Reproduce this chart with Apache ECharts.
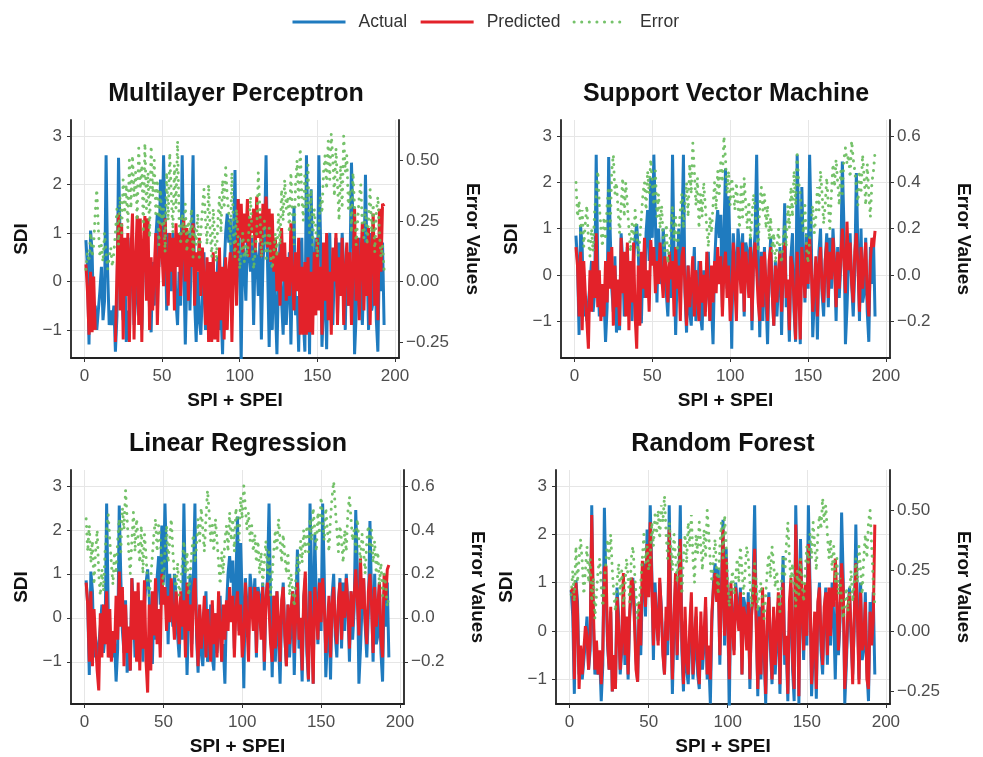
<!DOCTYPE html>
<html>
<head>
<meta charset="utf-8">
<title>SDI model comparison</title>
<script src="https://cdn.jsdelivr.net/npm/echarts@6/dist/echarts.min.js"></script>
<style>
html, body { margin: 0; padding: 0; background: #fff; }
#chart { width: 983px; height: 757px; }
</style>
</head>
<body>
<div id="chart"></div>
<script>
// observed SDI, index 1..193 (same in every panel)
const actual = [
  0.85, 0.3, -1.3, 1.05, 0.6, -0.9, -0.5, -1.0, -0.6, -0.2,
  0.3, -0.8, -0.4, 2.6, 0.2, -0.9, -0.6, -0.9, -0.5, -1.45,
  -0.7, 2.55, 0.9, -0.3, -0.8, 0.4, -1.25, -0.6, -1.2, 0.9,
  0.3, -0.9, -0.4, 0.6, -0.7, 0.2, -1.0, 0.3, 0.8, 1.1,
  0.5, -0.6, -1.05, 0.4, -0.5, 0.9, 1.4, 0.3, 2.1, 0.8,
  2.6, 1.2, -0.6, 1.0, 0.3, -0.2, 1.0, 0.5, -0.4, -0.9,
  0.2, -0.5, 2.6, 0.4, -1.3, 0.1, 1.0, -0.6, 0.8, 2.6,
  -0.4, -1.25, 0.2, -0.8, -1.1, -0.2, 0.6, -1.0, -0.5, 0.3,
  -0.9, -1.2, 0.1, -0.8, -0.3, 0.5, -1.0, -0.6, -1.5, 0.2,
  1.0, 1.4, 0.8, 1.3, -0.7, 0.9, 2.3, -0.3, 1.7, 0.4,
  -1.6, 0.9, 0.3, -0.4, 1.0, 0.6, 0.2, 0.9, -0.9, 0.7,
  0.5, -0.3, 0.8, -1.2, 0.4, 0.9, 2.6, 0.3, -1.35, 0.5,
  -1.0, 0.6, -0.5, -1.5, 0.1, 0.8, -0.4, -1.1, 0.3, -0.9,
  -0.2, 0.6, -1.3, 0.2, 1.55, -0.7, -0.3, -1.45, 0.4, 0.9,
  -0.8, -1.45, 2.6, 1.0, -1.5, 1.9, 0.4, -0.6, 0.9, -0.3,
  2.6, 1.0, -1.35, -0.5, 0.2, -1.4, 0.5, 1.0, -0.4, -0.9,
  0.3, 0.9, -0.7, 0.8, -0.3, 1.0, 0.3, -1.0, 0.6, -0.5,
  0.2, 2.45, 1.1, -1.5, -0.7, 0.3, 0.9, -0.2, -0.9, 0.1,
  2.2, 0.5, -1.0, 1.0, -0.6, -0.4, 0.8, -0.8, -1.45, 0.6,
  -0.2, 0.8, -0.9
];

const mlpPredicted = [
  0.35, -0.2, -1.1, 0.2, -1.05, 0.1, -1.0, null, null, null,
  null, null, null, null, null, null, null, null, null, -1.25,
  0.2, 1.4, -0.6, 1.2, -1.2, 0.9, -0.3, 1.0, -1.25, 0.6,
  1.4, -1.2, 0.4, 1.35, -0.9, 1.3, -1.25, 0.8, 1.35, -0.4,
  1.3, -1.0, 0.5, -0.6, 0.2, 1.0, -0.9, 0.3, 1.2, 0.6,
  -0.1, 1.3, 0.4, -0.5, 1.0, 0.2, 0.9, -0.6, 1.2, 0.3,
  1.0, -0.3, 0.8, 1.3, 0.0, 1.1, -0.4, 0.9, 0.3, 1.2,
  -0.5, 0.6, 0.2, 0.9, -0.3, 0.7, 0.1, -0.9, 0.5, -1.25,
  0.4, -1.25, 0.6, -1.2, 0.2, -1.25, 0.7, -0.8, 0.3, -1.2,
  0.5, -1.0, 0.2, 0.6, -1.25, 0.4, 0.8, -0.5, 1.7, 0.9,
  1.6, 0.6, 1.4, 0.8, 1.7, 0.5, 1.3, 1.0, 1.5, 0.6,
  1.75, 0.9, 1.4, 0.5, 1.6, 1.1, 1.75, 0.7, 1.5, 0.4,
  1.4, 0.2, 0.9, -0.2, 0.6, -0.5, 1.1, 0.0, 0.8, -0.4,
  0.5, -0.3, 1.2, 0.1, -0.6, 0.6, -0.2, 0.9, -1.1, 0.3,
  -1.1, 0.4, -1.1, 0.5, -1.05, 0.2, -1.1, 0.6, -0.7, 0.9,
  -0.6, 0.3, -1.1, 0.8, -0.4, 1.0, -0.8, 0.2, -1.1, 0.7,
  0.0, 1.0, -0.9, 0.5, -0.3, 0.9, -0.9, 0.2, 0.8, -0.5,
  0.6, -0.9, 0.3, 1.5, -0.4, 0.9, -0.8, 0.4, 1.2, -0.6,
  0.8, -0.3, 1.1, -0.9, 0.6, 1.4, -0.5, 0.9, -0.8, 1.5,
  0.2, 1.6, 1.55
];
const mlpError = [
  0.05, 0.12, 0.08, 0.2, 0.1, 0.15, 0.28, 0.38, 0.22, 0.1,
  0.15, 0.08, 0.2, 0.12, 0.05, 0.1, 0.14, 0.06, 0.12, 0.2,
  0.3, 0.15, 0.35, 0.2, 0.42, 0.28, 0.4, 0.22, 0.5, 0.3,
  0.52, 0.35, 0.45, 0.25, 0.55, 0.38, 0.48, 0.2, 0.57, 0.3,
  0.45, 0.18, 0.56, 0.35, 0.5, 0.28, 0.42, 0.15, 0.38, 0.22,
  0.3, 0.12, 0.45, 0.25, 0.53, 0.35, 0.2, 0.48, 0.3, 0.58,
  0.25, 0.15, 0.28, 0.2, 0.32, 0.12, 0.25, 0.18, 0.3, 0.1,
  0.22, 0.15, 0.28, 0.1, 0.2, 0.3, 0.38, 0.25, 0.15, 0.4,
  0.2, 0.1, 0.3, 0.18, 0.08, 0.25, 0.35, 0.2, 0.42, 0.3,
  0.47, 0.35, 0.28, 0.15, 0.45, 0.2, 0.1, 0.3, 0.18, 0.05,
  0.12, 0.2, 0.08, 0.15, 0.1, 0.22, 0.35, 0.18, 0.05, 0.12,
  0.2, 0.45, 0.3, 0.1, 0.18, 0.25, 0.08, 0.15, 0.22, 0.1,
  0.05, 0.12, 0.2, 0.1, 0.28, 0.15, 0.38, 0.25, 0.42, 0.3,
  0.35, 0.2, 0.45, 0.28, 0.15, 0.4, 0.5, 0.3, 0.55, 0.35,
  0.25, 0.45, 0.3, 0.48, 0.2, 0.38, 0.15, 0.3, 0.22, 0.1,
  0.2, 0.35, 0.28, 0.45, 0.52, 0.38, 0.58, 0.42, 0.61, 0.5,
  0.35, 0.55, 0.4, 0.25, 0.48, 0.3, 0.6, 0.45, 0.52, 0.3,
  0.38, 0.2, 0.45, 0.3, 0.15, 0.25, 0.35, 0.4, 0.22, 0.18,
  0.3, 0.15, 0.25, 0.38, 0.2, 0.32, 0.12, 0.28, 0.35, 0.2,
  0.1, 0.15, 0.05
];

const svmPredicted = [
  0.6, 0.2, -0.9, 0.5, -1.2, 0.3, -0.4, -1.0, -1.6, 0.1,
  -0.8, 0.3, -0.5, 0.9, -0.7, 0.1, -1.0, -0.2, -0.9, 0.3,
  -0.6, 0.5, -0.3, 0.6, -1.1, 0.2, -0.7, -0.1, -1.1, 0.8,
  -0.4, 0.5, -0.9, 0.7, -1.2, 0.3, -0.6, 0.7, -0.9, -1.6,
  0.2, -1.1, 0.5, -0.3, 0.8, -0.5, 0.1, -0.8, 0.75, 0.2,
  0.6, -0.4, 0.3, -0.2, 0.7, 0.0, -0.5, 0.4, 0.1, -0.6,
  0.5, -0.1, 0.3, -0.9, 0.6, -0.3, 0.2, -1.0, 0.4, 0.6,
  -0.3, -1.1, 0.2, -0.7, -0.2, 0.4, -0.9, 0.1, -0.5, -1.0,
  0.3, -0.6, 0.0, -0.9, 0.5, -0.3, -1.0, 0.2, -0.6, 0.3,
  -0.4, 0.6, -0.2, 0.4, -0.9, 0.1, 0.5, -0.5, 0.2, -1.0,
  -0.6, 0.7, -0.2, -1.0, 0.6, 0.2, -0.4, 0.7, -0.8, 0.5,
  0.1, -0.5, 0.6, -1.0, 0.3, 0.7, 0.1, -0.6, -1.0, 0.4,
  -0.7, 0.5, -0.2, -1.0, 0.3, 0.6, -0.4, -1.1, 0.2, -0.6,
  0.1, 0.5, -0.8, 0.0, 0.7, -0.5, -0.1, -1.2, 0.4, 0.2,
  -0.6, -1.4, 0.5, -0.3, -1.4, 0.6, 0.1, -0.5, 0.7, -0.2,
  0.8, 0.2, -0.8, -0.3, 0.4, -0.9, 0.2, 0.6, -0.3, -0.6,
  0.3, 0.7, -0.5, 0.5, -0.1, 0.8, 0.2, -0.7, 0.5, -0.3,
  0.4, 1.0, 0.3, -0.4, 1.15, 0.1, 0.7, -0.2, -0.6, 0.5,
  0.9, 0.2, -0.8, 0.6, -0.3, 0.2, 0.7, -0.5, -0.9, 0.3,
  0.8, 0.6, 0.95
];
const svmError = [
  0.4, 0.25, 0.32, 0.18, 0.28, 0.12, 0.22, 0.3, 0.15, 0.08,
  0.2, 0.1, 0.28, 0.35, 0.45, 0.3, 0.2, 0.12, 0.25, 0.15,
  0.3, 0.38, 0.2, 0.45, 0.52, 0.35, 0.4, 0.28, 0.18, 0.3,
  0.42, 0.25, 0.4, 0.3, 0.2, 0.1, 0.22, 0.15, 0.28, 0.18,
  0.08, 0.15, 0.25, 0.35, 0.4, 0.28, 0.45, 0.35, 0.5, 0.4,
  0.3, 0.45, 0.25, 0.35, 0.2, 0.3, 0.15, 0.1, 0.22, 0.05,
  0.12, 0.2, 0.3, 0.15, 0.25, 0.1, 0.18, 0.28, 0.35, 0.2,
  0.3, 0.4, 0.25, 0.48, 0.35, 0.57, 0.45, 0.3, 0.42, 0.2,
  0.35, 0.25, 0.4, 0.3, 0.2, 0.12, 0.25, 0.18, 0.3, 0.4,
  0.28, 0.45, 0.35, 0.5, 0.4, 0.6, 0.5, 0.35, 0.45, 0.3,
  0.42, 0.35, 0.28, 0.4, 0.3, 0.2, 0.38, 0.25, 0.42, 0.3,
  0.2, 0.32, 0.15, 0.25, 0.35, 0.28, 0.2, 0.1, 0.3, 0.38,
  0.28, 0.35, 0.2, 0.3, 0.15, 0.25, 0.1, 0.18, 0.05, 0.12,
  0.2, 0.1, 0.05, 0.15, 0.22, 0.12, 0.3, 0.2, 0.38, 0.25,
  0.45, 0.3, 0.52, 0.4, 0.35, 0.25, 0.18, 0.3, 0.12, 0.05,
  0.15, 0.22, 0.3, 0.18, 0.25, 0.38, 0.28, 0.45, 0.35, 0.22,
  0.3, 0.42, 0.3, 0.2, 0.35, 0.48, 0.38, 0.5, 0.4, 0.3,
  0.45, 0.35, 0.5, 0.55, 0.48, 0.52, 0.42, 0.58, 0.5, 0.45,
  0.38, 0.3, 0.45, 0.35, 0.52, 0.42, 0.3, 0.48, 0.35, 0.25,
  0.4, 0.45, 0.53
];

const lrPredicted = [
  0.8, 0.3, -1.0, 0.6, -1.1, 0.2, -0.5, -1.2, -1.65, 0.1,
  -0.9, 0.3, -0.6, 0.6, -0.9, 0.2, -1.0, -0.3, -0.8, 0.5,
  -0.5, 1.05, -0.2, 0.7, -1.1, 0.3, -0.8, -0.2, -1.2, 0.9,
  -0.5, 0.6, -1.0, 0.8, -1.2, 0.4, -0.7, 0.85, -1.0, -1.7,
  0.3, -1.2, 0.6, -0.4, 0.9, -0.6, 0.2, -0.9, 1.0, 0.3,
  0.7, -0.3, 0.5, -0.1, 0.9, 0.1, -0.5, 0.6, 0.2, -0.6,
  0.6, -0.2, 0.4, -0.9, 0.8, -0.3, 0.3, -0.9, 0.6, 0.9,
  -0.2, -1.1, 0.3, -0.7, -0.2, 0.5, -0.9, 0.2, -0.4, -1.0,
  0.4, -0.6, 0.1, -0.9, 0.6, -0.3, -1.0, 0.3, -0.5, 0.4,
  -0.3, 0.7, -0.1, 0.5, -0.9, 0.2, 0.6, -0.4, 0.3, -0.9,
  -0.5, 0.8, -0.1, -1.0, 0.7, 0.3, -0.3, 0.7, -0.8, 0.6,
  0.2, -0.5, 0.7, -1.0, 0.4, 0.8, 0.2, -0.6, -1.0, 0.5,
  -0.7, 0.6, -0.1, -1.0, 0.4, 0.7, -0.4, -1.1, 0.3, -0.6,
  0.2, 0.6, -0.8, 0.1, 0.8, -0.5, 0.0, -1.2, 0.5, 1.05,
  -0.6, -1.4, 0.6, -0.2, -1.5, 0.7, 0.2, -0.5, 0.8, -0.1,
  0.9, 0.3, -0.8, -0.2, 0.5, -0.9, 0.3, 0.7, -0.2, -0.6,
  0.4, 0.8, -0.5, 0.6, 0.0, 0.9, 0.3, -0.7, 0.6, -0.2,
  0.5, 1.1, 0.4, -0.4, 1.35, 0.2, 0.9, -0.1, -0.6, 0.6,
  1.0, 0.3, -0.8, 0.7, -0.2, 0.3, 0.8, -0.5, -0.9, 1.0,
  0.4, 1.1, 1.2
];
const lrError = [
  0.45, 0.3, 0.42, 0.25, 0.35, 0.15, 0.3, 0.4, 0.2, 0.1,
  0.22, 0.12, 0.3, 0.4, 0.47, 0.35, 0.25, 0.15, 0.3, 0.2,
  0.35, 0.45, 0.3, 0.5, 0.4, 0.58, 0.45, 0.3, 0.2, 0.35,
  0.48, 0.3, 0.45, 0.35, 0.25, 0.42, 0.2, 0.38, 0.28, 0.15,
  0.1, 0.18, 0.28, 0.38, 0.45, 0.3, 0.42, 0.35, 0.25, 0.15,
  0.3, 0.42, 0.25, 0.35, 0.45, 0.3, 0.2, 0.12, 0.25, 0.1,
  0.15, 0.25, 0.35, 0.2, 0.3, 0.1, 0.2, 0.3, 0.38, 0.25,
  0.32, 0.45, 0.35, 0.5, 0.4, 0.3, 0.45, 0.58, 0.48, 0.35,
  0.42, 0.3, 0.45, 0.35, 0.25, 0.15, 0.3, 0.2, 0.35, 0.42,
  0.3, 0.48, 0.35, 0.45, 0.3, 0.5, 0.42, 0.35, 0.55, 0.45,
  0.6, 0.5, 0.4, 0.48, 0.35, 0.42, 0.3, 0.38, 0.25, 0.35,
  0.2, 0.3, 0.15, 0.25, 0.35, 0.2, 0.3, 0.1, 0.2, 0.3,
  0.4, 0.3, 0.45, 0.35, 0.25, 0.38, 0.28, 0.2, 0.3, 0.1,
  0.2, 0.12, 0.05, 0.18, 0.28, 0.2, 0.35, 0.25, 0.4, 0.3,
  0.42, 0.3, 0.45, 0.35, 0.5, 0.4, 0.3, 0.48, 0.38, 0.55,
  0.45, 0.35, 0.5, 0.4, 0.3, 0.45, 0.55, 0.62, 0.5, 0.4,
  0.3, 0.42, 0.35, 0.25, 0.4, 0.3, 0.48, 0.55, 0.45, 0.35,
  0.4, 0.3, 0.45, 0.35, 0.25, 0.38, 0.3, 0.2, 0.35, 0.42,
  0.3, 0.4, 0.25, 0.35, 0.2, 0.3, 0.15, 0.25, 0.1, 0.2,
  0.15, 0.05, 0.1
];

const rfPredicted = [
  0.8, 0.9, -1.0, 1.0, 0.4, -1.2, -0.3, -0.9, -0.4, 0.1,
  -0.1, -0.8, -0.2, 2.4, 0.5, -0.8, -0.2, -0.9, -0.4, -1.1,
  -0.4, 1.3, 1.35, -0.2, -0.8, 0.5, -1.25, -0.5, -1.2, 0.7,
  0.1, -0.8, -0.2, 1.2, -0.5, 0.3, -0.9, 0.4, 1.1, 1.0,
  0.2, -0.8, -1.05, 0.6, -0.3, 1.45, 1.2, 0.5, 1.8, 0.7,
  2.25, 1.0, -0.3, 0.8, 0.2, -0.3, 1.1, 0.4, -0.5, -0.9,
  0.5, -0.2, 2.1, 0.2, -1.0, 0.3, 1.2, -0.5, 0.6, 1.9,
  -0.2, -1.1, 0.5, -0.6, -0.9, 0.1, 0.8, -0.9, -0.2, 0.5,
  -0.7, -1.1, 0.4, -0.6, -0.1, 0.7, -0.9, -0.3, -1.0, 0.4,
  0.9, 1.2, 0.6, 1.1, -0.5, 0.7, 2.1, -0.1, 1.5, 0.2,
  -1.0, 1.0, 0.1, -0.5, 0.9, 0.4, 0.0, 0.8, -0.9, 0.5,
  0.3, -0.4, 0.6, -1.0, 0.3, 0.7, 1.7, 0.1, -1.2, 0.3,
  -0.9, 0.9, -0.3, -1.3, 0.3, 0.7, -0.2, -1.0, 0.5, -0.7,
  0.1, 0.8, -1.1, 0.4, 1.0, -0.5, -0.1, -1.3, 0.6, 1.1,
  -0.6, -1.2, 2.2, 0.8, -1.35, 1.5, 0.6, -0.4, 1.0, -0.1,
  1.8, 0.8, -1.1, -0.3, 0.4, -1.2, 0.6, 0.9, -0.2, -0.7,
  0.5, 0.8, -0.5, 0.9, -0.1, 0.9, 0.5, 1.5, 0.7, -0.4,
  0.4, 1.4, 0.9, -1.2, -0.5, 0.5, 0.8, 0.0, -1.1, 0.3,
  1.4, 0.3, -1.1, 0.8, -0.4, -0.2, 0.6, -1.0, -1.2, 0.4,
  -0.3, 0.2, 2.2
];
const rfError = [
  0.15, 0.25, 0.12, 0.35, 0.2, 0.3, 0.38, 0.28, 0.15, 0.25,
  0.35, 0.2, 0.3, 0.12, 0.22, 0.05, 0.15, 0.25, 0.3, 0.18,
  0.1, 0.2, 0.28, 0.38, 0.3, 0.4, 0.25, 0.15, 0.08, 0.2,
  0.28, 0.15, 0.25, 0.1, 0.18, 0.3, 0.22, 0.12, 0.3, 0.35,
  0.25, 0.15, 0.05, 0.12, 0.2, 0.3, 0.4, 0.28, 0.35, 0.25,
  0.3, 0.45, 0.35, 0.48, 0.4, 0.5, 0.38, 0.52, 0.45, 0.56,
  0.4, 0.3, 0.45, 0.35, 0.25, 0.4, 0.3, 0.2, 0.35, 0.25,
  0.15, 0.3, 0.4, 0.28, 0.45, 0.35, 0.48, 0.3, 0.2, 0.4,
  0.32, 0.45, 0.35, 0.25, 0.42, 0.3, 0.5, 0.4, 0.28, 0.2,
  0.3, 0.38, 0.25, 0.15, 0.35, 0.45, 0.3, 0.48, 0.35, 0.2,
  0.1, 0.18, 0.25, 0.15, 0.22, 0.3, 0.2, 0.35, 0.25, 0.15,
  0.25, 0.35, 0.3, 0.2, 0.1, 0.18, 0.28, 0.2, 0.08, 0.15,
  0.2, 0.12, 0.05, 0.15, 0.25, 0.32, 0.22, 0.35, 0.28, 0.18,
  0.25, 0.15, 0.08, 0.2, 0.3, 0.22, 0.35, 0.45, 0.3, 0.2,
  0.28, 0.18, 0.1, 0.25, 0.15, 0.3, 0.2, 0.12, 0.25, 0.35,
  0.28, 0.4, 0.3, 0.45, 0.35, 0.25, 0.4, 0.48, 0.42, 0.55,
  0.45, 0.52, 0.4, 0.3, 0.38, 0.25, 0.35, 0.2, 0.3, 0.15,
  0.22, 0.12, 0.05, 0.1, 0.18, 0.08, 0.15, 0.25, 0.12, 0.2,
  0.3, 0.2, 0.35, 0.25, 0.15, 0.3, 0.4, 0.3, 0.45, 0.5,
  0.35, 0.2, 0.1
];

const xTicks = [0, 50, 100, 150, 200];
const sdiTicks = [-1, 0, 1, 2, 3];
const errTicksQuarter = [-0.25, 0, 0.25, 0.5];
const errTicksFifth = [-0.2, 0, 0.2, 0.4, 0.6];

const FONT = "'Liberation Sans', Arial, sans-serif";
const ERR_SCALE = 5; // error axis = SDI axis / 5

const panels = [
  { title: 'Multilayer Perceptron', pred: mlpPredicted, err: mlpError, errTicks: errTicksQuarter, digits: 2,
    grid: { left: 71, top: 120, width: 328, height: 238 }, yMin: -1.58, yMax: 3.33, titleX: 231, titleY: 77 },
  { title: 'Support Vector Machine', pred: svmPredicted, err: svmError, errTicks: errTicksFifth, digits: 1,
    grid: { left: 561, top: 120, width: 329, height: 238 }, yMin: -1.8, yMax: 3.35, titleX: 721, titleY: 77 },
  { title: 'Linear Regression', pred: lrPredicted, err: lrError, errTicks: errTicksFifth, digits: 1,
    grid: { left: 71, top: 470, width: 333, height: 237 }, yMin: -1.96, yMax: 3.36, titleX: 233, titleY: 427 },
  { title: 'Random Forest', pred: rfPredicted, err: rfError, errTicks: errTicksQuarter, digits: 2,
    grid: { left: 556, top: 470, width: 334, height: 237 }, yMin: -1.51, yMax: 3.33, titleX: 718, titleY: 427 }
];

function pairs(arr) {
  return arr.map((v, i) => [i + 1, v]);
}
function minus(s) {
  return s.replace('-', '\u2212');
}

const axisLineStyle = { show: true, onZero: false, lineStyle: { color: '#222', width: 1.8 } };
const tickStyle = { show: true, length: 4, lineStyle: { color: '#333', width: 1 } };
const labelStyle = { color: '#4d4d4d', fontSize: 17, fontFamily: FONT };
const nameStyle = { color: '#111', fontSize: 19, fontWeight: 'bold', fontFamily: FONT };
const gridLine = { show: true, lineStyle: { color: '#e6e6e6', width: 1 } };

const option = {
  backgroundColor: '#fff',
  animation: false,
  legend: {
    top: 8,
    left: 286,
    itemWidth: 53,
    itemHeight: 10,
    itemGap: 12,
    data: ['Actual', 'Predicted', 'Error'],
    itemStyle: { opacity: 0 },
    lineStyle: { width: 3 },
    textStyle: { color: '#333', fontSize: 17.5, fontFamily: FONT, padding: [0, 0, 0, 8] }
  },
  title: [],
  grid: [],
  xAxis: [],
  yAxis: [],
  series: []
};

panels.forEach((p, i) => {
  option.title.push({
    text: p.title,
    left: p.titleX,
    top: p.titleY,
    textAlign: 'center',
    textStyle: { color: '#111', fontSize: 25, fontWeight: 'bold', fontFamily: FONT }
  });
  option.grid.push(p.grid);
  option.xAxis.push({
    type: 'value',
    gridIndex: i,
    min: -8.6,
    max: 202.6,
    name: 'SPI + SPEI',
    nameLocation: 'middle',
    nameGap: 33,
    nameTextStyle: nameStyle,
    axisLine: axisLineStyle,
    axisTick: { ...tickStyle, customValues: xTicks },
    axisLabel: { ...labelStyle, margin: 10, customValues: xTicks },
    splitLine: gridLine
  });
  option.yAxis.push({
    type: 'value',
    gridIndex: i,
    position: 'left',
    min: p.yMin,
    max: p.yMax,
    name: 'SDI',
    nameLocation: 'middle',
    nameGap: 40,
    nameTextStyle: nameStyle,
    axisLine: axisLineStyle,
    axisTick: { ...tickStyle, customValues: sdiTicks },
    axisLabel: { ...labelStyle, margin: 9, customValues: sdiTicks, formatter: v => minus(String(v)) },
    splitLine: gridLine
  });
  option.yAxis.push({
    type: 'value',
    gridIndex: i,
    position: 'right',
    min: p.yMin / ERR_SCALE,
    max: p.yMax / ERR_SCALE,
    name: 'Error Values',
    nameLocation: 'middle',
    nameRotate: -90,
    nameGap: 64,
    nameTextStyle: nameStyle,
    axisLine: axisLineStyle,
    axisTick: { ...tickStyle, customValues: p.errTicks },
    axisLabel: { ...labelStyle, margin: 7, customValues: p.errTicks, formatter: v => minus(v.toFixed(p.digits)) },
    splitLine: { show: false }
  });

  option.series.push(
    {
      name: 'Actual', type: 'line', xAxisIndex: i, yAxisIndex: 2 * i,
      data: pairs(actual), symbol: 'none',
      lineStyle: { color: '#1f7bbf', width: 3 }, itemStyle: { color: '#1f7bbf' }
    },
    {
      name: 'Predicted', type: 'line', xAxisIndex: i, yAxisIndex: 2 * i,
      data: pairs(p.pred), symbol: 'none', connectNulls: false,
      lineStyle: { color: '#e3222a', width: 3 }, itemStyle: { color: '#e3222a' }
    },
    {
      name: 'Error', type: 'line', xAxisIndex: i, yAxisIndex: 2 * i + 1,
      data: pairs(p.err), symbol: 'none',
      lineStyle: { color: '#66bb5a', width: 3, type: [0.1, 7.5], cap: 'round', opacity: 0.9 },
      itemStyle: { color: '#66bb5a' }
    }
  );
});

const chart = echarts.init(document.getElementById('chart'));
chart.setOption(option);
</script>
</body>
</html>
